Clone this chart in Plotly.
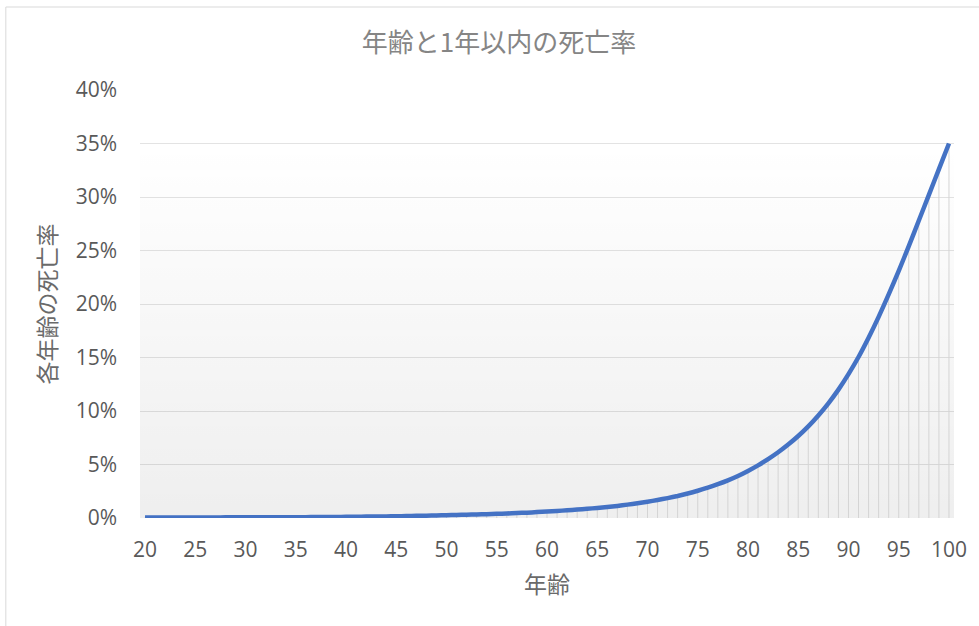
import plotly.graph_objects as go

ages = list(range(20, 101))
death_rate_pct = [
    0.05, 0.05, 0.05, 0.05, 0.05, 0.05, 0.05, 0.05, 0.06, 0.06,
    0.06, 0.06, 0.07, 0.07, 0.07, 0.08, 0.08, 0.09, 0.09, 0.10,
    0.11, 0.12, 0.13, 0.14, 0.15, 0.17, 0.18, 0.20, 0.22, 0.24,
    0.26, 0.28, 0.31, 0.33, 0.36, 0.39, 0.42, 0.46, 0.50, 0.55,
    0.60, 0.66, 0.72, 0.79, 0.86, 0.94, 1.03, 1.13, 1.25, 1.38,
    1.52, 1.68, 1.86, 2.06, 2.29, 2.55, 2.84, 3.16, 3.52, 3.93,
    4.40, 4.92, 5.50, 6.14, 6.86, 7.66, 8.56, 9.58, 10.72, 12.00,
    13.45, 15.05, 16.85, 18.80, 20.90, 23.10, 25.40, 27.80, 30.20, 32.60,
    35.00,
]
x_ticks = list(range(20, 101, 5))
title_text = "年齢と1年以内の死亡率"
x_title = "年齢"
y_title = "各年齢の死亡率"

rates = [v / 100 for v in death_rate_pct]

CJK = "Noto Sans CJK JP"
TICK_FONT = dict(family="Open Sans, " + CJK, size=21, color="#595959")

fig = go.Figure()

# gradient background block (spans data extent)
x0, x1 = min(ages) - 0.5, max(ages) + 0.5
ymax = max(rates)
fig.add_trace(go.Scatter(
    x=[x0, x1, x1, x0, x0], y=[0, 0, ymax, ymax, 0],
    mode="lines", line=dict(width=0), fill="toself",
    fillgradient=dict(type="vertical",
                      colorscale=[[0, "rgba(0,0,0,0.065)"], [1, "rgba(0,0,0,0)"]]),
    hoverinfo="skip", showlegend=False,
))

# drop lines
dx, dy = [], []
for a, r in zip(ages, rates):
    dx += [a, a, None]
    dy += [0, r, None]
fig.add_trace(go.Scatter(
    x=dx, y=dy, mode="lines", line=dict(color="#d4d4d4", width=1),
    hoverinfo="skip", showlegend=False,
))

# main curve
fig.add_trace(go.Scatter(
    x=ages, y=rates, mode="lines",
    line=dict(color="#4472C4", width=4.5, shape="spline", smoothing=0.6),
    showlegend=False,
))

PL, PR, PT, PB = 140, 959, 90, 518
W, H = 979, 626

def px_x(p):
    return (p - PL) / (PR - PL)

def px_y(p):
    return (PB - p) / (PB - PT)

fig.add_shape(type="rect", xref="paper", yref="paper",
              x0=px_x(5), x1=px_x(1100), y0=px_y(800), y1=px_y(7),
              line=dict(color="#d9d9d9", width=1), fillcolor="rgba(0,0,0,0)",
              layer="below")

fig.update_layout(
    width=W, height=H,
    margin=dict(l=PL, r=W - PR, t=PT, b=H - PB),
    paper_bgcolor="white", plot_bgcolor="white",
    title=dict(text=title_text, xref="container", yref="container",
               x=499 / W, y=1 - 43 / H, xanchor="center", yanchor="middle",
               font=dict(family=CJK, size=26, color="#858585")),
    xaxis=dict(
        range=[x0, x1], tickvals=x_ticks, showgrid=False, zeroline=False,
        showline=False, ticks="", tickfont=TICK_FONT, ticklabelstandoff=17,
        title=dict(text=x_title, font=dict(family=CJK, size=23, color="#6a6a6a"),
                   standoff=14),
    ),
    yaxis=dict(
        range=[0, 0.4], dtick=0.05, tickformat=".0%", showgrid=True,
        gridcolor="#e3e3e3", gridwidth=1, zeroline=False, showline=False,
        ticks="", tickfont=TICK_FONT, ticklabelstandoff=22,
        title=dict(text=y_title, font=dict(family=CJK, size=23, color="#6a6a6a"),
                   standoff=12),
    ),
)

fig.write_html("out.html")
